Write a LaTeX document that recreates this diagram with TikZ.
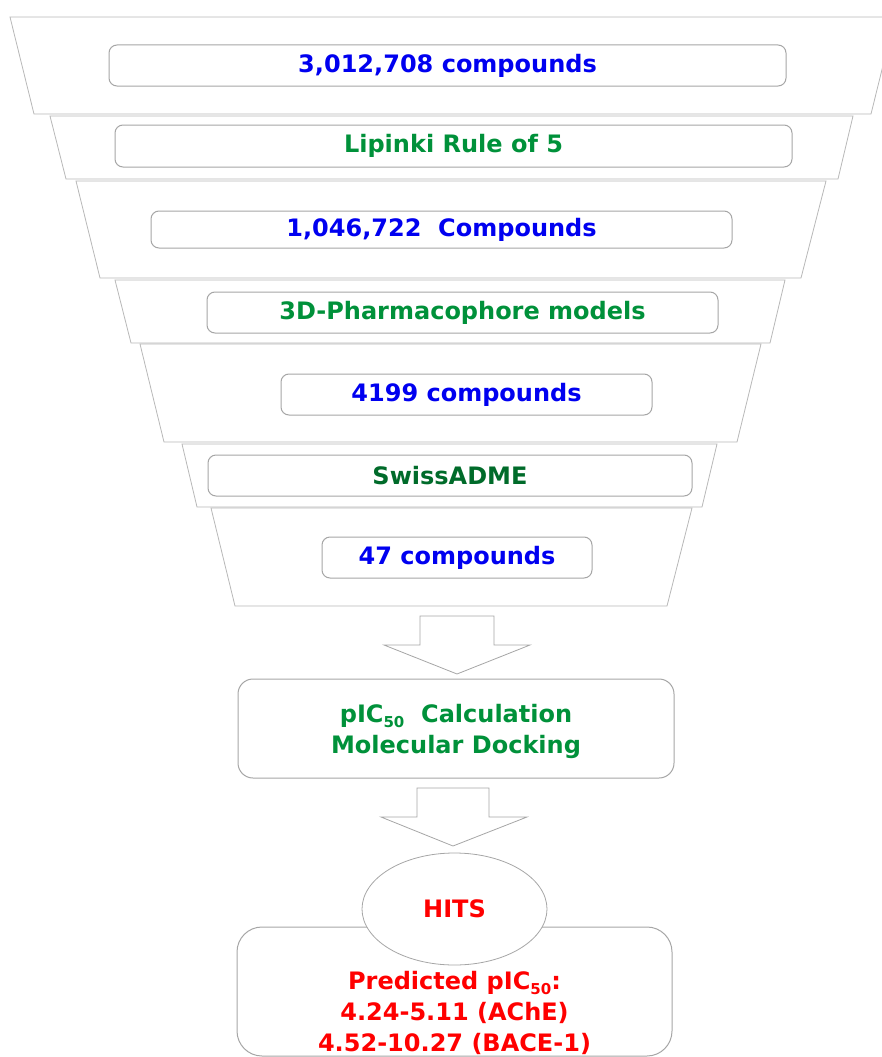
\documentclass[tikz,border=0pt]{standalone}
\usepackage{fontspec}
\setmainfont{DejaVu Sans}
\usetikzlibrary{shapes.geometric}
\definecolor{tblue}{HTML}{0000F0}
\definecolor{tgreen}{HTML}{00913A}
\definecolor{tdgreen}{HTML}{006B2A}
\definecolor{tred}{HTML}{FF0000}
\definecolor{trapline}{HTML}{B8B8B8}
\definecolor{boxline}{HTML}{A6A6A6}
\tikzset{
  trap/.style={draw=trapline, line width=0.8pt, fill=white},
  sbox/.style={draw=boxline, line width=1pt, rounded corners=8pt, fill=white, inner sep=0pt},
  bigbox/.style={draw=boxline, line width=1pt, fill=white, inner sep=0pt},
  lbl/.style={font=\fontsize{24}{31}\selectfont\bfseries, align=center, inner sep=0pt},
  barrow/.style={draw=boxline, line width=0.8pt, fill=white},
}
\newcommand{\subfifty}{\raisebox{-0.22em}{\fontsize{15}{15}\selectfont 50}}
\begin{document}
\begin{tikzpicture}[x=1pt,y=-1pt]
\useasboundingbox (0,0) rectangle (881,1057);
% funnel trapezoids
\draw[trap] (10,17) -- (895,17) -- (871,114) -- (34,114) -- cycle;
\draw[trap] (50,116) -- (853,116) -- (838,179) -- (66,179) -- cycle;
\draw[trap] (76,181) -- (826,181) -- (801,278) -- (100,278) -- cycle;
\draw[trap] (115,280) -- (785,280) -- (770,343) -- (131,343) -- cycle;
\draw[trap] (140,344) -- (761,344) -- (737,442) -- (164,442) -- cycle;
\draw[trap] (182,444) -- (717,444) -- (702,507) -- (197,507) -- cycle;
\draw[trap] (211,508) -- (692,508) -- (667,606) -- (235,606) -- cycle;
% boxes
\node[sbox, minimum width=677pt, minimum height=41pt] (b1) at (447.5,65.5) {};
\node[lbl, text=tblue] (t1) at (b1.center) {3,012,708 compounds};
\node[sbox, minimum width=677pt, minimum height=42pt] (b2) at (453.5,146) {};
\node[lbl, text=tgreen] (t2) at (b2.center) {Lipinki Rule of 5};
\node[sbox, minimum width=581pt, minimum height=37pt] (b3) at (441.5,229.5) {};
\node[lbl, text=tblue] (t3) at (b3.center) {1,046,722\ \ Compounds};
\node[sbox, minimum width=511pt, minimum height=41pt] (b4) at (462.5,312.5) {};
\node[lbl, text=tgreen] (t4) at (b4.center) {3D-Pharmacophore models};
\node[sbox, minimum width=371pt, minimum height=41pt] (b5) at (466.5,394.5) {};
\node[lbl, text=tblue] (t5) at (b5.center) {4199 compounds};
\node[sbox, minimum width=484pt, minimum height=41pt] (b6) at (450,475.5) {};
\node[lbl, text=tdgreen] (t6) at (b6.center) {SwissADME};
\node[sbox, minimum width=270pt, minimum height=41pt] (b7) at (457,557.5) {};
\node[lbl, text=tblue] (t7) at (b7.center) {47 compounds};
% block arrow 1
\draw[barrow] (420,616) -- (494,616) -- (494,645) -- (530,645) -- (457,674) -- (384,645) -- (420,645) -- cycle;
% calculation box
\node[bigbox, rounded corners=15pt, minimum width=436pt, minimum height=99pt] (b8) at (456,728.5) {};
\node[lbl, text=tgreen] (t8) at (456,731) {pIC\subfifty\ \ Calculation\\Molecular Docking};
% block arrow 2
\draw[barrow] (417,788) -- (489,788) -- (489,817) -- (527,817) -- (453,846) -- (381,817) -- (417,817) -- cycle;
% results box
\node[bigbox, rounded corners=25pt, minimum width=435pt, minimum height=129pt] (b9) at (454.5,991.5) {};
\node[draw=boxline, line width=0.8pt, fill=white, ellipse, minimum width=185pt, minimum height=112pt, inner sep=0pt] (hits) at (454.5,909) {};
\node[lbl, text=tred] (th) at (hits.center) {HITS};
\node[lbl, text=tred] (res) at (454.5,1012.5) {Predicted pIC\subfifty:\\4.24-5.11 (AChE)\\4.52-10.27 (BACE-1)};
\end{tikzpicture}
\end{document}
